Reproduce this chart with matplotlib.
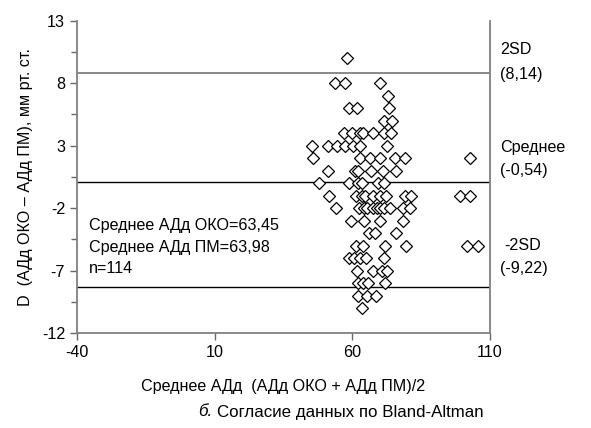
import matplotlib
matplotlib.use("Agg")
import matplotlib.pyplot as plt

plt.rcParams['font.family'] = ['Liberation Sans', 'DejaVu Sans']
plt.rcParams['axes.unicode_minus'] = False

# точки по строкам: разность (D) -> средние значения
rows = {
    10: [58.0],
    8: [53.7, 57.3, 70.1],
    7: [73.1],
    6: [58.6, 61.6, 73.3],
    5: [71.3, 74.3],
    4: [57.0, 59.9, 62.8, 63.9, 67.5, 71.5, 74.1],
    3: [45.4, 51.2, 54.4, 57.3, 60.3, 62.8, 72.6],
    2: [45.7, 62.8, 66.4, 70.1, 75.5, 79.1, 102.8],
    1: [51.2, 61.0, 62.1, 66.8, 71.2, 75.9],
    0: [47.9, 58.8, 62.1, 63.5, 69.3, 71.3],
    -1: [51.5, 61.3, 63.5, 64.6, 67.5, 70.1, 72.2, 79.1, 81.3, 98.9, 102.8],
    -2: [54.1, 62.4, 64.2, 65.3, 67.5, 69.0, 70.1, 71.5, 73.7, 78.4, 81.0],
    -3: [59.5, 64.2, 70.1, 78.4],
    -4: [66.1, 68.2, 75.9],
    -5: [61.3, 63.9, 71.9, 79.5, 101.7, 105.7],
    -6: [58.8, 60.6, 62.8, 65.0, 71.5],
    -7: [61.7, 67.5, 70.8, 72.6],
    -8: [62.1, 63.9, 65.7, 71.9],
    -9: [62.1, 65.3, 68.6],
    -10: [63.5],
}
mean_x = [x for d, xs in rows.items() for x in xs]
diff_y = [d for d, xs in rows.items() for x in xs]

# линии (положение как на рисунке)
upper_line = 8.8
mean_line = 0.05
lower_line = -8.28

x_ticks = [-40, 10, 60, 110]
y_ticks = [-12, -7, -2, 3, 8, 13]
y_minor = [-9.5, -4.5, 0.5, 5.5, 10.5]

fs = 11.6

fig = plt.figure(figsize=(5.91, 4.28), dpi=100)
ax = fig.add_axes([0.1303, 0.222, 0.699, 0.7296])

ax.axhline(upper_line, color="0.5", lw=1.3)
ax.axhline(mean_line, color="black", lw=1.0)
ax.axhline(lower_line, color="black", lw=1.0)

ax.plot(mean_x, diff_y, ls="none", marker="D", ms=6.3, mfc="white", mec="black", mew=0.9)

ax.set_xlim(-40, 110)
ax.set_ylim(-12, 13)
ax.set_xticks(x_ticks)
ax.set_yticks(y_ticks)
ax.set_yticks(y_minor, minor=True)
ax.tick_params(axis="both", which="major", direction="out", length=5, width=1, color="0.4", labelsize=fs)
ax.tick_params(axis="y", which="minor", direction="out", length=4, width=1, color="0.4")
for s in ["left", "bottom", "right"]:
    ax.spines[s].set_color("0.5")
    ax.spines[s].set_linewidth(1.3)
ax.spines["top"].set_visible(False)

ax.set_ylabel("D  (АДд ОКО – АДд ПМ), мм рт. ст.", fontsize=fs, labelpad=6)
ax.set_xlabel("Среднее АДд  (АДд ОКО + АДд ПМ)/2", fontsize=fs, labelpad=14)

ax.text(0.03, 0.345, "Среднее АДд ОКО=63,45", transform=ax.transAxes, fontsize=fs, va="center")
ax.text(0.03, 0.275, "Среднее АДд ПМ=63,98", transform=ax.transAxes, fontsize=fs, va="center")
ax.text(0.03, 0.207, "n=114", transform=ax.transAxes, fontsize=fs, va="center")

fig.text(0.846, 1 - 50 / 428, "2SD", fontsize=fs, va="center")
fig.text(0.846, 1 - 74 / 428, "(8,14)", fontsize=fs, va="center")
fig.text(0.846, 1 - 148 / 428, "Среднее", fontsize=fs, va="center")
fig.text(0.846, 1 - 170 / 428, "(-0,54)", fontsize=fs, va="center")
fig.text(0.853, 1 - 245 / 428, "-2SD", fontsize=fs, va="center")
fig.text(0.846, 1 - 268 / 428, "(-9,22)", fontsize=fs, va="center")

fig.text(198 / 591, 1 - 412 / 428, "б.", fontsize=12.2, style="italic", va="center")
fig.text(217 / 591, 1 - 412 / 428, "Согласие данных по Bland-Altman", fontsize=12.2, va="center")

fig.savefig("out.png", dpi=100)
